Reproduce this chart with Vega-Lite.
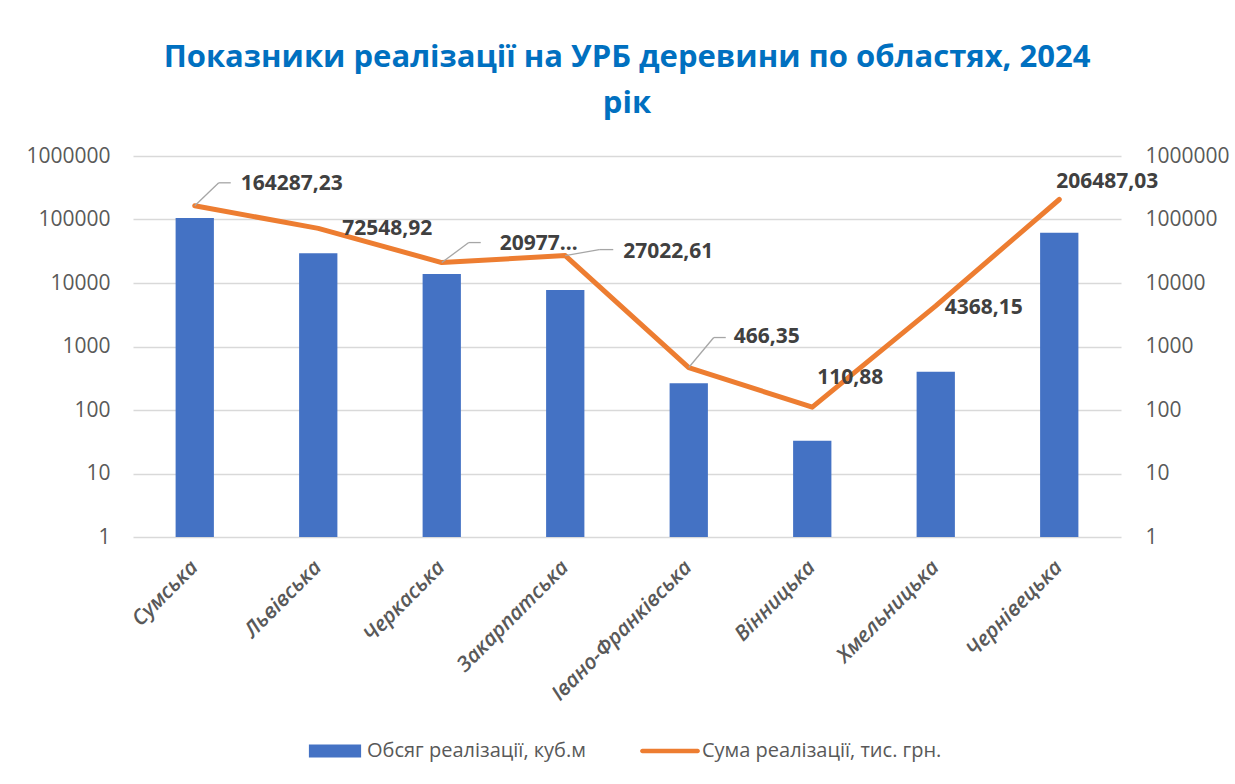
{
  "$schema": "https://vega.github.io/schema/vega-lite/v6.json",
  "width": 988,
  "height": 381,
  "autosize": {"type": "none"},
  "padding": {"left": 133, "top": 156, "right": 114, "bottom": 247},
  "background": "white",
  "config": {
    "view": {"stroke": null},
    "font": "Open Sans",
    "locale": {"number": {"decimal": ",", "thousands": " ", "grouping": [3], "currency": ["", ""]}}
  },
  "title": {
    "text": ["Показники реалізації на УРБ деревини по областях, 2024", "рік"],
    "font": "Open Sans",
    "fontSize": 31,
    "fontWeight": "bold",
    "color": "#0070C0",
    "anchor": "middle",
    "frame": "group",
    "lineHeight": 46,
    "baseline": "bottom",
    "offset": -6
  },
  "data": {
    "values": [
      {"region": "Сумська", "volume": 105700, "sum": 164287.23},
      {"region": "Львівська", "volume": 29400, "sum": 72548.92},
      {"region": "Черкаська", "volume": 13860, "sum": 20977.5},
      {"region": "Закарпатська", "volume": 7760, "sum": 27022.61},
      {"region": "Івано-Франківська", "volume": 263, "sum": 466.35},
      {"region": "Вінницька", "volume": 32.9, "sum": 110.88},
      {"region": "Хмельницька", "volume": 401, "sum": 4368.15},
      {"region": "Чернівецька", "volume": 61950, "sum": 206487.03}
    ]
  },
  "encoding": {
    "x": {
      "field": "region",
      "type": "nominal",
      "sort": null,
      "scale": {"paddingInner": 0.69, "paddingOuter": 0.345},
      "axis": {
        "title": null,
        "domain": false,
        "ticks": false,
        "labelAngle": -45,
        "labelAlign": "right",
        "labelBaseline": "middle",
        "labelPadding": 27,
        "labelLimit": 300,
        "labelFont": "Open Sans",
        "labelFontSize": 21,
        "labelFontStyle": "italic",
        "labelFontWeight": 600,
        "labelColor": "#595959"
      }
    }
  },
  "layer": [
    {
      "mark": {"type": "bar", "color": "#4472C4"},
      "encoding": {
        "y": {
          "field": "volume",
          "type": "quantitative",
          "scale": {"type": "log", "domain": [1, 1000000], "nice": false},
          "axis": {
            "orient": "left",
            "title": null,
            "values": [1, 10, 100, 1000, 10000, 100000, 1000000],
            "format": "d",
            "grid": true,
            "gridColor": "#D9D9D9",
            "gridWidth": 1.5,
            "domain": false,
            "ticks": false,
            "labelPadding": 23,
            "labelFont": "Open Sans",
            "labelFontSize": 21,
            "labelColor": "#595959"
          }
        },
        "y2": {"datum": 1},
        "color": {
          "datum": "Обсяг реалізації, куб.м",
          "scale": {
            "domain": ["Обсяг реалізації, куб.м", "Сума реалізації, тис. грн."],
            "range": ["#4472C4", "#ED7D31"]
          },
          "legend": {
            "title": null,
            "orient": "none",
            "direction": "horizontal",
            "legendX": 172,
            "legendY": 565,
            "symbolSize": 3600,
            "labelOffset": 2,
            "labelLimit": 400,
            "columnPadding": 54,
            "labelFont": "Open Sans",
            "labelFontSize": 20,
            "labelColor": "#595959",
            "encode": {
              "symbols": {
                "update": {
                  "shape": {"signal": "datum.value === 'Обсяг реалізації, куб.м' ? 'M-0.87,-0.22H0.87V0.22H-0.87Z' : 'M-0.92,-0.075H0.92A0.075,0.075 0 0 1 0.92,0.075H-0.92A0.075,0.075 0 0 1 -0.92,-0.075Z'"},
                  "fill": {"signal": "datum.value === 'Обсяг реалізації, куб.м' ? '#4472C4' : '#ED7D31'"},
                  "stroke": {"value": "transparent"},
                  "strokeWidth": {"value": 0},
                  "opacity": {"value": 1},
                  "fillOpacity": {"value": 1}
                }
              }
            }
          }
        }
      }
    },
    {
      "encoding": {
        "y": {
          "field": "sum",
          "type": "quantitative",
          "scale": {"type": "log", "domain": [1, 1000000], "nice": false},
          "axis": {
            "orient": "right",
            "title": null,
            "values": [1, 10, 100, 1000, 10000, 100000, 1000000],
            "format": "d",
            "grid": false,
            "domain": false,
            "ticks": false,
            "labelPadding": 24,
            "labelFont": "Open Sans",
            "labelFontSize": 21,
            "labelColor": "#595959"
          }
        }
      },
      "layer": [
        {
          "mark": {"type": "line", "color": "#ED7D31", "strokeWidth": 5, "strokeCap": "round", "strokeJoin": "round"},
          "encoding": {"color": {"datum": "Сума реалізації, тис. грн."}}
        },
        {
          "transform": [{"filter": "datum.region === 'Сумська'"}],
          "mark": {"type": "rule", "color": "#A6A6A6", "strokeWidth": 1.3, "x2Offset": 24, "y2Offset": -23},
          "encoding": {"x2": {"field": "region"}, "y2": {"field": "sum"}}
        },
        {
          "transform": [{"filter": "datum.region === 'Сумська'"}],
          "mark": {"type": "rule", "color": "#A6A6A6", "strokeWidth": 1.3, "xOffset": 24, "yOffset": -23, "x2Offset": 36, "y2Offset": -23},
          "encoding": {"x2": {"field": "region"}, "y2": {"field": "sum"}}
        },
        {
          "transform": [{"filter": "datum.region === 'Черкаська'"}],
          "mark": {"type": "rule", "color": "#A6A6A6", "strokeWidth": 1.3, "x2Offset": 27, "y2Offset": -20},
          "encoding": {"x2": {"field": "region"}, "y2": {"field": "sum"}}
        },
        {
          "transform": [{"filter": "datum.region === 'Черкаська'"}],
          "mark": {"type": "rule", "color": "#A6A6A6", "strokeWidth": 1.3, "xOffset": 27, "yOffset": -20, "x2Offset": 39, "y2Offset": -20},
          "encoding": {"x2": {"field": "region"}, "y2": {"field": "sum"}}
        },
        {
          "transform": [{"filter": "datum.region === 'Закарпатська'"}],
          "mark": {"type": "rule", "color": "#A6A6A6", "strokeWidth": 1.3, "x2Offset": 34, "y2Offset": -6},
          "encoding": {"x2": {"field": "region"}, "y2": {"field": "sum"}}
        },
        {
          "transform": [{"filter": "datum.region === 'Закарпатська'"}],
          "mark": {"type": "rule", "color": "#A6A6A6", "strokeWidth": 1.3, "xOffset": 34, "yOffset": -6, "x2Offset": 48, "y2Offset": -6},
          "encoding": {"x2": {"field": "region"}, "y2": {"field": "sum"}}
        },
        {
          "transform": [{"filter": "datum.region === 'Івано-Франківська'"}],
          "mark": {"type": "rule", "color": "#A6A6A6", "strokeWidth": 1.3, "x2Offset": 25, "y2Offset": -30},
          "encoding": {"x2": {"field": "region"}, "y2": {"field": "sum"}}
        },
        {
          "transform": [{"filter": "datum.region === 'Івано-Франківська'"}],
          "mark": {"type": "rule", "color": "#A6A6A6", "strokeWidth": 1.3, "xOffset": 25, "yOffset": -30, "x2Offset": 37, "y2Offset": -30},
          "encoding": {"x2": {"field": "region"}, "y2": {"field": "sum"}}
        },
        {
          "transform": [{"filter": "datum.region === 'Сумська'"}],
          "mark": {"type": "text", "align": "left", "baseline": "middle", "dx": 46, "dy": -22, "font": "Open Sans", "fontSize": 21, "fontWeight": "bold", "color": "#404040"},
          "encoding": {"text": {"field": "sum", "type": "quantitative", "format": ".2f"}}
        },
        {
          "transform": [{"filter": "datum.region === 'Львівська'"}],
          "mark": {"type": "text", "align": "left", "baseline": "middle", "dx": 24, "dy": 1, "font": "Open Sans", "fontSize": 21, "fontWeight": "bold", "color": "#404040"},
          "encoding": {"text": {"field": "sum", "type": "quantitative", "format": ".2f"}}
        },
        {
          "transform": [{"filter": "datum.region === 'Черкаська'"}],
          "mark": {"type": "text", "align": "left", "baseline": "middle", "dx": 58, "dy": -19, "limit": 80, "font": "Open Sans", "fontSize": 21, "fontWeight": "bold", "color": "#404040"},
          "encoding": {"text": {"field": "sum", "type": "quantitative", "format": ".2f"}}
        },
        {
          "transform": [{"filter": "datum.region === 'Закарпатська'"}],
          "mark": {"type": "text", "align": "left", "baseline": "middle", "dx": 58, "dy": -4, "font": "Open Sans", "fontSize": 21, "fontWeight": "bold", "color": "#404040"},
          "encoding": {"text": {"field": "sum", "type": "quantitative", "format": ".2f"}}
        },
        {
          "transform": [{"filter": "datum.region === 'Івано-Франківська'"}],
          "mark": {"type": "text", "align": "left", "baseline": "middle", "dx": 45, "dy": -31, "font": "Open Sans", "fontSize": 21, "fontWeight": "bold", "color": "#404040"},
          "encoding": {"text": {"field": "sum", "type": "quantitative", "format": ".2f"}}
        },
        {
          "transform": [{"filter": "datum.region === 'Вінницька'"}],
          "mark": {"type": "text", "align": "left", "baseline": "middle", "dx": 5, "dy": -29, "font": "Open Sans", "fontSize": 21, "fontWeight": "bold", "color": "#404040"},
          "encoding": {"text": {"field": "sum", "type": "quantitative", "format": ".2f"}}
        },
        {
          "transform": [{"filter": "datum.region === 'Хмельницька'"}],
          "mark": {"type": "text", "align": "left", "baseline": "middle", "dx": 9, "dy": 2, "font": "Open Sans", "fontSize": 21, "fontWeight": "bold", "color": "#404040"},
          "encoding": {"text": {"field": "sum", "type": "quantitative", "format": ".2f"}}
        },
        {
          "transform": [{"filter": "datum.region === 'Чернівецька'"}],
          "mark": {"type": "text", "align": "left", "baseline": "middle", "dx": -3, "dy": -18, "font": "Open Sans", "fontSize": 21, "fontWeight": "bold", "color": "#404040"},
          "encoding": {"text": {"field": "sum", "type": "quantitative", "format": ".2f"}}
        }
      ]
    }
  ],
  "resolve": {"scale": {"y": "independent"}}
}
